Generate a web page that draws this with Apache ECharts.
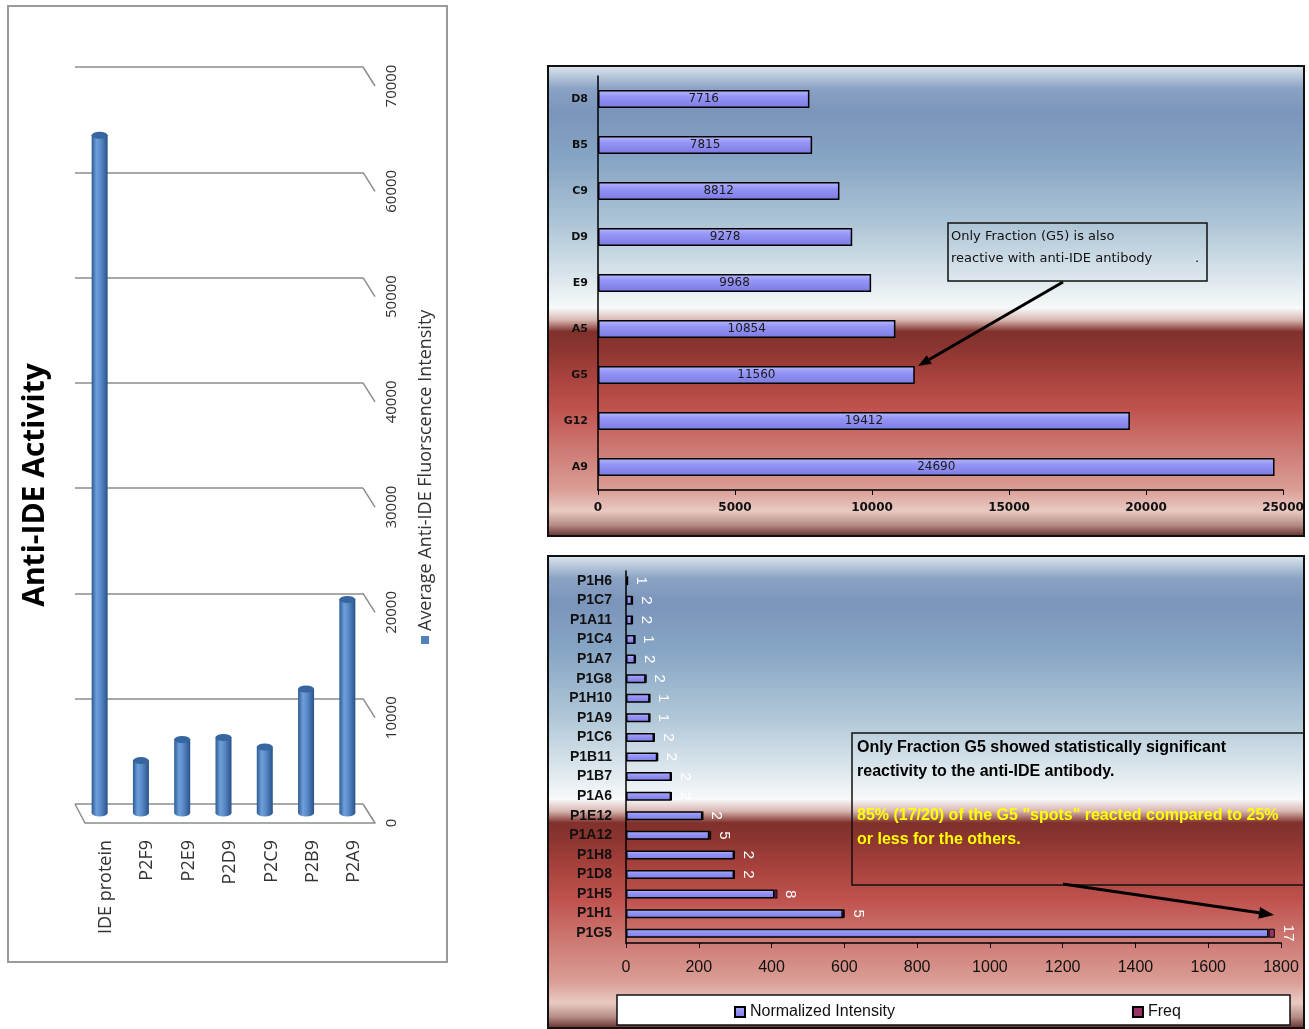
<!DOCTYPE html>
<html>
<head>
<meta charset="utf-8">
<title>Anti-IDE Activity</title>
<script src="https://cdn.jsdelivr.net/npm/echarts/dist/echarts.min.js"></script>
<style>
  html, body { margin: 0; padding: 0; background: #fff; }
  #chart { width: 1309px; height: 1029px; }
</style>
</head>
<body>
<div id="chart"></div>
<script>
// left panel: average anti-IDE fluorescence (3D cylinders, drawn on its side)
const activityCategories = ['IDE protein', 'P2F9', 'P2E9', 'P2D9', 'P2C9', 'P2B9', 'P2A9'];
const activityValues = [64400, 5000, 7000, 7200, 6300, 11800, 20300];
const activityTicks = [0, 10000, 20000, 30000, 40000, 50000, 60000, 70000];

// top right: fractions
const fractionCategories = ['D8', 'B5', 'C9', 'D9', 'E9', 'A5', 'G5', 'G12', 'A9'];
const fractionValues = [7716, 7815, 8812, 9278, 9968, 10854, 11560, 19412, 24690];
const fractionTicks = [0, 5000, 10000, 15000, 20000, 25000];

// bottom right: spots
const spotCategories = ['P1H6', 'P1C7', 'P1A11', 'P1C4', 'P1A7', 'P1G8', 'P1H10', 'P1A9', 'P1C6', 'P1B11',
  'P1B7', 'P1A6', 'P1E12', 'P1A12', 'P1H8', 'P1D8', 'P1H5', 'P1H1', 'P1G5'];
const spotIntensity = [4, 17, 17, 24, 25, 54, 65, 65, 77, 86, 124, 124, 210, 229, 297, 297, 408, 596, 1766];
const spotFreq = [1, 2, 2, 1, 2, 2, 1, 1, 2, 2, 2, 2, 2, 5, 2, 2, 8, 5, 17];
const spotTicks = [0, 200, 400, 600, 800, 1000, 1200, 1400, 1600, 1800];

const chart = echarts.init(document.getElementById('chart'));

const panelFill = () => new echarts.graphic.LinearGradient(0, 0, 0, 1, [
  {offset: 0, color: '#dfe8ef'},
  {offset: 0.05, color: '#8aa2c4'},
  {offset: 0.1, color: '#7b95bb'},
  {offset: 0.2, color: '#86a5c4'},
  {offset: 0.34, color: '#afc6d7'},
  {offset: 0.45, color: '#dbe6ec'},
  {offset: 0.515, color: '#f7f9fa'},
  {offset: 0.54, color: '#d9b8b2'},
  {offset: 0.565, color: '#80302b'},
  {offset: 0.6, color: '#8c3530'},
  {offset: 0.66, color: '#a8423d'},
  {offset: 0.73, color: '#c0534f'},
  {offset: 0.8, color: '#cb736d'},
  {offset: 0.9, color: '#da9e96'},
  {offset: 0.945, color: '#e9cac3'},
  {offset: 0.975, color: '#b58b85'},
  {offset: 1, color: '#5c2a27'}
]);

const cylinderFill = new echarts.graphic.LinearGradient(0, 0, 1, 0, [
  {offset: 0, color: '#2b5a94'},
  {offset: 0.3, color: '#6f9fd9'},
  {offset: 0.55, color: '#5b8cca'},
  {offset: 1, color: '#2a528a'}
]);

const barFill = new echarts.graphic.LinearGradient(0, 0, 0, 1, [
  {offset: 0, color: '#b9b9ff'},
  {offset: 0.35, color: '#9696f7'},
  {offset: 1, color: '#7a7ae2'}
]);

const plain = v => String(v);

function arrow(x1, y1, x2, y2, head, half) {
  const len = Math.hypot(x2 - x1, y2 - y1);
  const ux = (x2 - x1) / len, uy = (y2 - y1) / len;
  const bx = x2 - ux * head, by = y2 - uy * head;
  return [
    {type: 'line', z: 50, shape: {x1: x1, y1: y1, x2: bx, y2: by}, style: {stroke: '#000', lineWidth: 3}},
    {type: 'polygon', z: 50, shape: {points: [[x2, y2], [bx - uy * half, by + ux * half], [bx + uy * half, by - ux * half]]},
      style: {fill: '#000'}}
  ];
}

function note(x, y, text, size, weight, color, family) {
  return {type: 'text', x: x, y: y, z: 50,
    style: {text: text, fontSize: size, fontWeight: weight, fill: color, fontFamily: family, align: 'left', verticalAlign: 'middle'}};
}

const grey = '#8c8c8c';

const option = {
  animation: false,
  backgroundColor: '#fff',
  grid: [
    {left: 75, top: 67, width: 288, height: 737},
    {left: 79, top: 76, width: 289, height: 737},
    {left: 85, top: 86, width: 290, height: 737},
    {left: 598, top: 76, width: 685, height: 414},
    {left: 626, top: 571, width: 655, height: 372}
  ],
  legend: {
    data: ['Normalized Intensity', 'Freq'],
    left: 729, top: 999, z: 10,
    itemGap: 237, itemWidth: 10, itemHeight: 10, icon: 'rect',
    textStyle: {fontSize: 16, color: '#111', fontFamily: 'Liberation Sans'}
  },
  xAxis: [
    {gridIndex: 0, type: 'category', data: activityCategories, show: false},
    {gridIndex: 1, type: 'category', data: activityCategories, show: false},
    {
      gridIndex: 2, type: 'category', data: activityCategories,
      axisLine: {lineStyle: {color: grey, width: 1.5}},
      axisTick: {length: 7, lineStyle: {color: grey, width: 1.5}},
      axisLabel: {rotate: 90, margin: 17, color: '#333', fontSize: 18, fontFamily: 'Open Sans'}
    },
    {
      gridIndex: 3, type: 'value', min: 0, max: fractionTicks[fractionTicks.length - 1], interval: fractionTicks[1],
      axisLine: {show: true, lineStyle: {color: '#000', width: 1.5}},
      axisTick: {show: true, length: 5, lineStyle: {color: '#000'}},
      splitLine: {show: false},
      axisLabel: {margin: 12, fontSize: 12, fontWeight: 'bold', color: '#111', fontFamily: 'DejaVu Sans', formatter: plain}
    },
    {
      gridIndex: 4, type: 'value', min: 0, max: spotTicks[spotTicks.length - 1], interval: spotTicks[1],
      axisLine: {show: true, lineStyle: {color: '#000', width: 1.5}},
      axisTick: {show: true, length: 5, lineStyle: {color: '#000'}},
      splitLine: {show: false},
      axisLabel: {margin: 17, fontSize: 16, color: '#111', fontFamily: 'Liberation Sans', formatter: plain}
    }
  ],
  yAxis: [
    {
      gridIndex: 0, type: 'value', min: 0, max: activityTicks[activityTicks.length - 1], interval: activityTicks[1],
      axisLine: {show: false}, axisTick: {show: false}, axisLabel: {show: false},
      splitLine: {lineStyle: {color: grey, width: 1.5}}
    },
    {gridIndex: 1, type: 'value', min: 0, max: activityTicks[activityTicks.length - 1], show: false},
    {
      gridIndex: 2, type: 'value', position: 'right', min: 0, max: activityTicks[activityTicks.length - 1], interval: activityTicks[1],
      axisLine: {show: false}, axisTick: {show: false}, splitLine: {show: false},
      axisLabel: {rotate: 90, margin: 9, color: '#333', fontSize: 15, fontFamily: 'Open Sans', formatter: plain}
    },
    {
      gridIndex: 3, type: 'category', inverse: true, data: fractionCategories,
      axisLine: {lineStyle: {color: '#000', width: 1.5}}, axisTick: {show: false},
      axisLabel: {margin: 10, fontSize: 11, fontWeight: 'bold', color: '#111', fontFamily: 'DejaVu Sans'}
    },
    {
      gridIndex: 4, type: 'category', inverse: true, data: spotCategories,
      axisLine: {lineStyle: {color: '#000', width: 1.5}}, axisTick: {show: false},
      axisLabel: {margin: 14, fontSize: 14, fontWeight: 'bold', color: '#111', fontFamily: 'Liberation Sans'}
    }
  ],
  series: [
    {
      // 3D wall edges of the left chart
      type: 'custom', xAxisIndex: 0, yAxisIndex: 0, silent: true,
      data: activityTicks.map(v => [0, v]),
      renderItem: function (params, api) {
        const cs = params.coordSys;
        const y = api.coord([0, api.value(1)])[1];
        const right = cs.x + cs.width;
        const children = [{type: 'line', shape: {x1: right, y1: y, x2: right + 12, y2: y + 19},
          style: {stroke: grey, lineWidth: 1.5}}];
        if (api.value(1) === 0) {
          children.push({type: 'line', shape: {x1: cs.x, y1: y, x2: cs.x + 10, y2: y + 19},
            style: {stroke: grey, lineWidth: 1.5}});
        }
        return {type: 'group', children: children};
      }
    },
    {
      name: 'Average Anti-IDE Fluorscence Intensity', type: 'bar', xAxisIndex: 1, yAxisIndex: 1,
      data: activityValues, barWidth: 16, itemStyle: {color: cylinderFill}, z: 3
    },
    {
      type: 'pictorialBar', xAxisIndex: 1, yAxisIndex: 1, data: activityValues, barGap: '-100%',
      symbol: 'circle', symbolSize: [16, 7], symbolPosition: 'start', symbolOffset: [0, '50%'],
      itemStyle: {color: cylinderFill}, z: 2
    },
    {
      type: 'pictorialBar', xAxisIndex: 1, yAxisIndex: 1, data: activityValues, barGap: '-100%',
      symbol: 'circle', symbolSize: [16, 7], symbolPosition: 'end', symbolOffset: [0, '-50%'],
      itemStyle: {color: '#36659f', borderColor: '#2a5088', borderWidth: 0.8}, z: 4
    },
    {
      name: 'Fraction', type: 'bar', xAxisIndex: 3, yAxisIndex: 3, data: fractionValues, barWidth: 18,
      itemStyle: {color: barFill, borderColor: '#000', borderWidth: 1.5},
      label: {show: true, position: 'inside', color: '#1a1a1a', fontSize: 12, fontFamily: 'DejaVu Sans'}
    },
    {
      name: 'Normalized Intensity', type: 'bar', xAxisIndex: 4, yAxisIndex: 4, stack: 'spot',
      data: spotIntensity, barWidth: 9,
      itemStyle: {color: barFill, borderColor: '#000', borderWidth: 1.5}
    },
    {
      name: 'Freq', type: 'bar', xAxisIndex: 4, yAxisIndex: 4, stack: 'spot',
      data: spotFreq, barWidth: 9,
      itemStyle: {color: '#993366', borderColor: '#000', borderWidth: 1},
      label: {show: true, position: 'right', rotate: -90, align: 'center', verticalAlign: 'middle', distance: 13,
        color: '#fff', fontSize: 15, fontFamily: 'Liberation Sans'}
    }
  ],
  graphic: [
    {type: 'rect', z: -100, shape: {x: 8, y: 6, width: 439, height: 956},
      style: {fill: '#fff', stroke: '#9a9a9a', lineWidth: 2}},
    {type: 'rect', z: -100, shape: {x: 548, y: 66, width: 756, height: 470},
      style: {fill: panelFill(), stroke: '#111', lineWidth: 2}},
    {type: 'rect', z: -100, shape: {x: 548, y: 556, width: 756, height: 472},
      style: {fill: panelFill(), stroke: '#111', lineWidth: 2}},
    {type: 'text', x: 35, y: 485, rotation: Math.PI / 2, z: 50,
      style: {text: 'Anti-IDE Activity', fontSize: 30, fontWeight: 'bold', fontFamily: 'Open Sans', fill: '#000',
        align: 'center', verticalAlign: 'middle'}},
    {type: 'rect', z: 50, shape: {x: 421, y: 636, width: 8, height: 8}, style: {fill: '#4f81bd'}},
    {type: 'text', x: 426, y: 631, rotation: Math.PI / 2, z: 50,
      style: {text: 'Average Anti-IDE Fluorscence Intensity', fontSize: 18, fontFamily: 'Open Sans', fill: '#333',
        align: 'left', verticalAlign: 'middle'}},
    // note on top chart
    {type: 'rect', z: 40, shape: {x: 948, y: 223, width: 259, height: 58},
      style: {fill: null, stroke: '#111', lineWidth: 1.5}},
    note(951, 237, 'Only Fraction (G5) is also', 13, 'normal', '#111', 'DejaVu Sans'),
    note(951, 259, 'reactive with anti-IDE antibody', 13, 'normal', '#111', 'DejaVu Sans'),
    note(1195, 259, '.', 13, 'normal', '#111', 'DejaVu Sans'),
    ...arrow(1063, 282, 918, 366, 13, 5),
    // note on bottom chart
    {type: 'rect', z: 40, shape: {x: 852, y: 733, width: 452, height: 152},
      style: {fill: null, stroke: '#111', lineWidth: 1.5}},
    note(857, 748, 'Only Fraction G5 showed statistically significant', 16, 'bold', '#000', 'Liberation Sans'),
    note(857, 772, 'reactivity to the anti-IDE antibody.', 16, 'bold', '#000', 'Liberation Sans'),
    note(857, 816, '85% (17/20) of the G5 "spots" reacted compared to 25%', 16, 'bold', '#ffff00', 'Liberation Sans'),
    note(857, 840, 'or less for the others.', 16, 'bold', '#ffff00', 'Liberation Sans'),
    ...arrow(1063, 884, 1274, 915, 15, 6),
    // legend box
    {type: 'rect', z: 3, shape: {x: 617, y: 995, width: 673, height: 30},
      style: {fill: '#fff', stroke: '#111', lineWidth: 1.5}}
  ]
};

chart.setOption(option);
</script>
</body>
</html>
